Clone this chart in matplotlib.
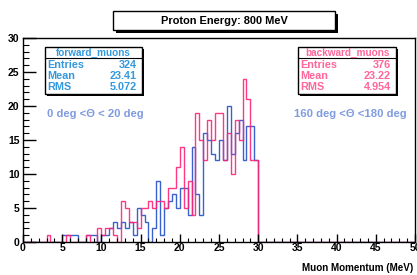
import numpy as np
import matplotlib
matplotlib.use("Agg")
import matplotlib.pyplot as plt
from matplotlib.patches import Rectangle
from matplotlib.lines import Line2D
from matplotlib.ticker import MultipleLocator

plt.rcParams['font.family'] = ['Liberation Sans', 'DejaVu Sans']
plt.rcParams['font.weight'] = 'bold'

# ---- data: counts per 0.5 MeV bin, lower edges 3.0 ... 29.5 MeV ----
first_edge = 3.0
bin_width = 0.5
forward_counts = [0, 0, 0, 0, 1, 1, 1, 1, 0, 0,
                  1, 1, 1, 0, 1, 1, 2, 3, 2, 3,
                  2, 3, 1, 5, 4, 3, 0, 2, 9, 1,
                  5, 6, 7, 5, 8, 8, 4, 14, 7, 4,
                  16, 15, 13, 12, 15, 12, 20, 13, 16, 18,
                  12, 17, 17, 12]
backward_counts = [1, 0, 0, 0, 0, 1, 0, 0, 0, 0,
                   1, 0, 0, 2, 1, 2, 2, 1, 0, 6,
                   5, 3, 3, 2, 5, 5, 6, 5, 6, 6,
                   5, 8, 8, 11, 14, 5, 9, 4, 19, 15,
                   12, 18, 15, 19, 19, 12, 16, 10, 18, 15,
                   24, 21, 12, 12]

title = "Proton Energy: 800 MeV"
xlabel = "Muon Momentum (MeV)"
forward_name = "forward_muons"
backward_name = "backward_muons"
forward_stats = [("Entries", "324"), ("Mean", "23.41"), ("RMS", "5.072")]
backward_stats = [("Entries", "376"), ("Mean", "23.22"), ("RMS", "4.954")]
forward_label = "0 deg <\u0398 < 20 deg"
backward_label = "160 deg <\u0398 <180 deg"

# full 0..50 histogram
nbins = 100
edges = np.linspace(0, 50, nbins + 1)
start = int(round(first_edge / bin_width))
fwd = np.zeros(nbins)
bwd = np.zeros(nbins)
fwd[start:start + len(forward_counts)] = forward_counts
bwd[start:start + len(backward_counts)] = backward_counts

W, H = 417, 275
fig = plt.figure(figsize=(W / 100, H / 100), dpi=100)
fig.patch.set_facecolor('white')

def fx(x):
    return x / W

def fy(y):
    return 1 - y / H

ax_l, ax_r, ax_t, ax_b = 23, 415, 38, 242
ax = fig.add_axes([fx(ax_l), fy(ax_b), fx(ax_r) - fx(ax_l), fy(ax_t) - fy(ax_b)])

blue = '#3a62cc'
pink = '#ff2277'
ax.stairs(fwd, edges, color=blue, lw=1.0, baseline=None)
ax.stairs(bwd, edges, color=pink, lw=1.0, baseline=None, alpha=0.9)

ax.set_xlim(0, 50)
ax.set_ylim(0, 30)
ax.xaxis.set_major_locator(MultipleLocator(5))
ax.xaxis.set_minor_locator(MultipleLocator(1))
ax.yaxis.set_major_locator(MultipleLocator(5))
ax.yaxis.set_minor_locator(MultipleLocator(1))
ax.tick_params(axis='x', which='major', direction='in', length=6, width=1.0,
               labelsize=7.5, pad=1.0, top=False)
ax.tick_params(axis='x', which='minor', direction='in', length=3, width=0.8, top=False)
ax.tick_params(axis='y', which='major', direction='in', length=9, width=1.0,
               labelsize=7.5, pad=2.5, right=False)
ax.tick_params(axis='y', which='minor', direction='in', length=4.5, width=0.8, right=False)
for lab in ax.get_xticklabels() + ax.get_yticklabels():
    lab.set_fontweight('bold')
for s in ax.spines.values():
    s.set_linewidth(1.0)

# x label (bottom right)
fig.text(fx(413), fy(268), xlabel, ha='right', va='center', fontsize=7.1,
         fontweight='bold', color='black')

# helper: box with shadow in figure pixels
def shadow_box(x0, y0, x1, y1, shadow=2.5, lw=1.0):
    fig.add_artist(Rectangle((fx(x0 + shadow), fy(y1 + shadow)),
                             fx(x1 - x0), fy(y0) - fy(y1),
                             transform=fig.transFigure, facecolor='black',
                             edgecolor='none', zorder=5))
    fig.add_artist(Rectangle((fx(x0), fy(y1)), fx(x1 - x0), fy(y0) - fy(y1),
                             transform=fig.transFigure, facecolor='white',
                             edgecolor='black', lw=lw, zorder=6))

# title box
shadow_box(113, 11, 335, 30)
fig.text(fx(224), fy(20.5), title, ha='center', va='center', fontsize=7.9,
         fontweight='bold', zorder=7)

# stats boxes
def stats_box(x0, y0, x1, y1, name, stats, color):
    shadow_box(x0, y0, x1, y1, shadow=2)
    fig.text(fx((x0 + x1) / 2), fy(y0 + 6), name, ha='center', va='center',
             fontsize=7.2, fontweight='bold', color=color, zorder=7)
    fig.add_artist(Line2D([fx(x0), fx(x1)], [fy(y0 + 11), fy(y0 + 11)],
                          transform=fig.transFigure, color='black', lw=0.8, zorder=7))
    for i, (k, v) in enumerate(stats):
        yy = y0 + 18 + i * 11
        fig.text(fx(x0 + 2), fy(yy), k, ha='left', va='center', fontsize=7.8,
                 fontweight='bold', color=color, zorder=7)
        fig.text(fx(x1 - 5), fy(yy), v, ha='right', va='center', fontsize=7.8,
                 fontweight='bold', color=color, zorder=7)

stats_box(45, 47, 142, 94, forward_name, forward_stats, '#3399dd')
stats_box(298, 47, 396, 94, backward_name, backward_stats, '#ff6699')

ang_color = '#7f9be0'
fig.text(fx(47), fy(114), forward_label, ha='left', va='center', fontsize=8.1,
         fontweight='bold', color=ang_color)
fig.text(fx(407), fy(114), backward_label, ha='right', va='center', fontsize=8.1,
         fontweight='bold', color=ang_color)

fig.savefig('out.png', dpi=100)
